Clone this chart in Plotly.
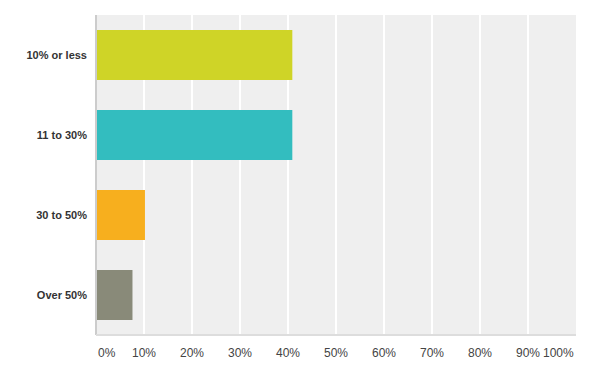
import plotly.graph_objects as go

categories = ["10% or less", "11 to 30%", "30 to 50%", "Over 50%"]
values = [40.9, 40.9, 10.2, 7.6]
colors = ["#CFD427", "#33BDBF", "#F7AF1E", "#898A79"]
tick_vals = [0, 10, 20, 30, 40, 50, 60, 70, 80, 90, 100]
tick_text = [f"{v}%" for v in tick_vals]

fig = go.Figure()
fig.add_trace(go.Bar(
    x=values, y=categories, orientation="h",
    marker=dict(color=colors, line=dict(width=0)),
    width=0.625, hoverinfo="x+y",
))

annotations = []
for v, t in zip(tick_vals, tick_text):
    anchor = "left" if v == tick_vals[0] else ("right" if v == tick_vals[-1] else "center")
    annotations.append(dict(
        x=v, y=0, xref="x", yref="paper", text=t, showarrow=False,
        xanchor=anchor, yanchor="middle", yshift=-18,
        font=dict(family="Arial, Liberation Sans, sans-serif", size=12, color="#444"),
    ))

fig.update_layout(
    width=593, height=376,
    margin=dict(l=96, r=17, t=15, b=41),
    paper_bgcolor="white", plot_bgcolor="#EFEFEF",
    showlegend=False,
    bargap=0.375,
    annotations=annotations,
    xaxis=dict(
        range=[0, 100], tickvals=tick_vals, showticklabels=False,
        showgrid=True, gridcolor="white", gridwidth=1.5,
        zeroline=False, showline=False, fixedrange=True,
    ),
    yaxis=dict(
        categoryorder="array", categoryarray=categories[::-1],
        showgrid=False, zeroline=False, showline=False,
        ticks="", ticklabelstandoff=8,
        tickfont=dict(family="Arial, Liberation Sans, sans-serif", size=11, color="#333", weight="bold"),
        fixedrange=True,
    ),
    shapes=[
        dict(type="line", xref="paper", yref="paper", x0=0, x1=0, y0=0, y1=1,
             line=dict(color="#CCCCCC", width=2)),
        dict(type="line", xref="paper", yref="paper", x0=0, x1=1, y0=0, y1=0,
             line=dict(color="#DDDDDD", width=2)),
    ],
)

fig.write_html("out.html", post_script="document.body.style.margin='0';document.body.style.overflow='hidden';",
               config={"displayModeBar": False})
